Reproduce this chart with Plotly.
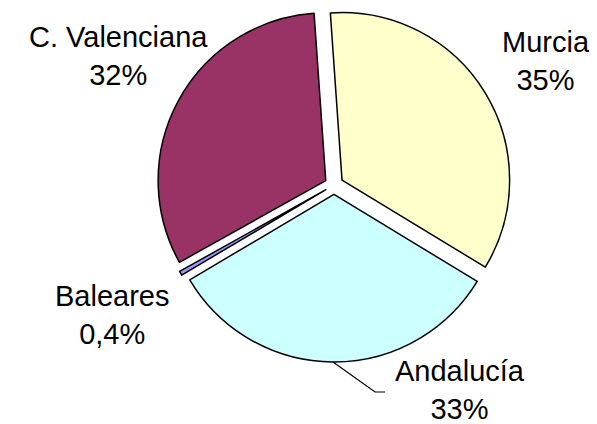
import plotly.graph_objects as go

# Data
regions = ["Murcia", "Andalucía", "Baleares", "C. Valenciana"]
shares = [34.8, 32.8, 0.4, 32.0]
share_labels = ["35%", "33%", "0,4%", "32%"]
colors = ["#FFFFCC", "#CCFFFF", "#9999FF", "#993366"]

W, H = 597, 424
OFF = 8  # page body margin offset

fig = go.Figure(go.Pie(
    labels=regions,
    values=shares,
    sort=False,
    direction="clockwise",
    rotation=-4,
    pull=0.056,
    textinfo="none",
    hoverinfo="label+percent",
    marker=dict(colors=colors, line=dict(color="black", width=1.5)),
    domain=dict(x=[0.2471, 0.8451], y=[0.1651, 1.0]),
    showlegend=False,
))

# label positions (pixel centers) for each region
label_pos = {
    "Murcia": (538, 53),
    "Andalucía": (452, 382),
    "Baleares": (104, 307),
    "C. Valenciana": (110, 48),
}

for name, lab in zip(regions, share_labels):
    px, py = label_pos[name]
    fig.add_annotation(
        x=px / W, y=1 - py / H, xref="paper", yref="paper",
        text=f"{name}<br>{lab}", showarrow=False,
        xanchor="center", yanchor="middle",
        font=dict(family="Liberation Sans, Arial, sans-serif", size=29, color="black"),
    )

# leader line for Andalucía
pts = [(333, 362), (375, 392), (385, 392)]
path = "M " + " L ".join(f"{(x - OFF) / W} {1 - (y - OFF) / H}" for x, y in pts)
fig.add_shape(type="path", path=path, xref="paper", yref="paper",
              line=dict(color="black", width=1.2))

fig.update_layout(
    width=W, height=H,
    margin=dict(l=0, r=0, t=0, b=0),
    paper_bgcolor="white", plot_bgcolor="white",
)

fig.write_html("out.html")
